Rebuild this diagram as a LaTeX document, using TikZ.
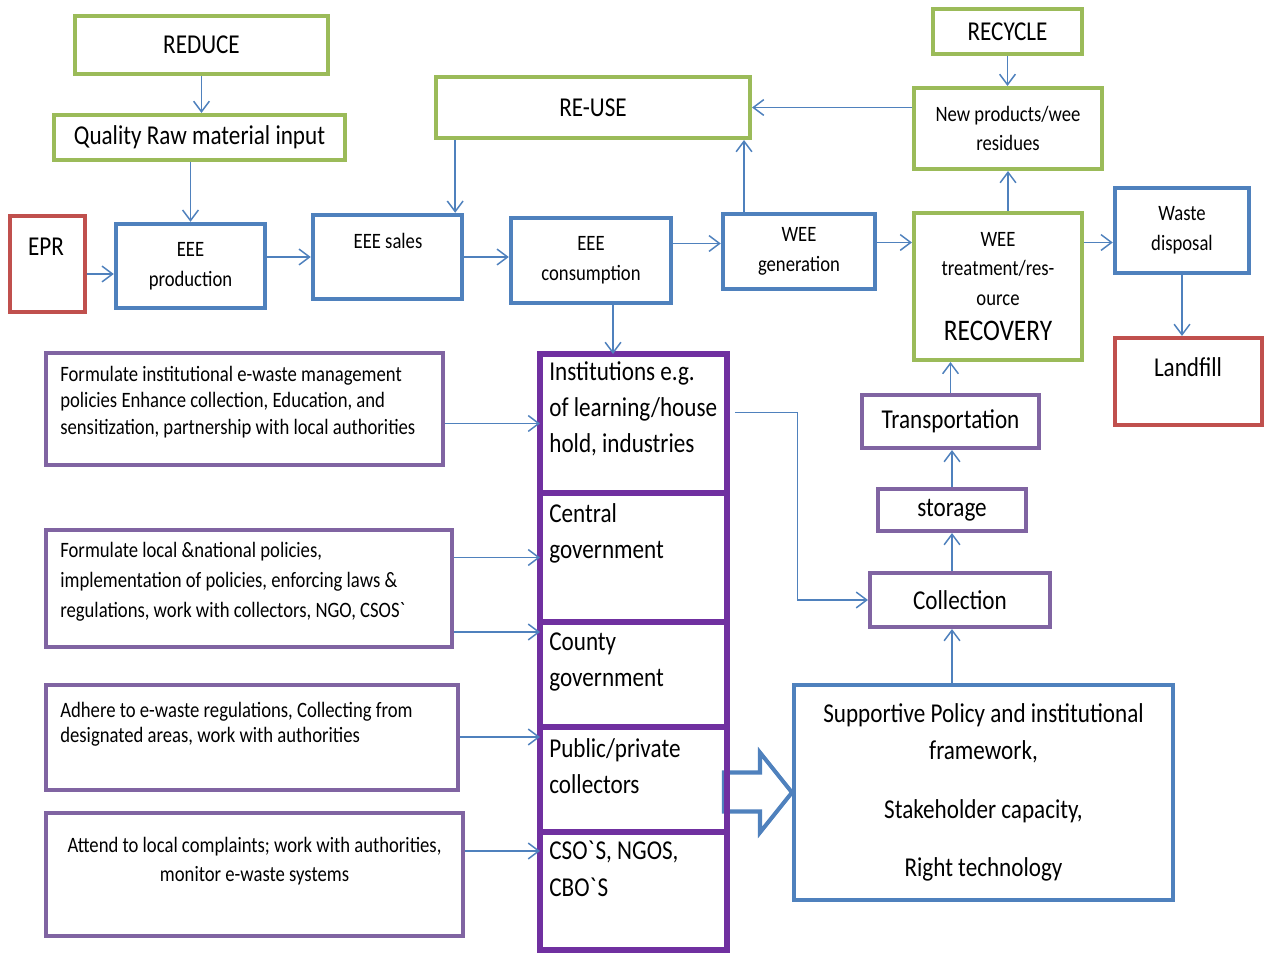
\documentclass[tikz,border=0pt]{standalone}
\usepackage{fontspec}
\setmainfont{Carlito}[FakeStretch=0.85]
\usetikzlibrary{arrows.meta,positioning,calc}

\definecolor{boxgreen}{HTML}{9BBB59}
\definecolor{boxblue}{HTML}{4F81BD}
\definecolor{boxred}{HTML}{C0504D}
\definecolor{boxpurple}{HTML}{8064A2}
\definecolor{colpurple}{HTML}{7030A0}

\tikzset{
  sz/.style 2 args={minimum width=#1*0.02cm, minimum height=#2*0.02cm},
  bigfont/.style={font=\fontsize{15.5}{21}\selectfont},
  smallfont/.style={font=\fontsize{12.5}{17}\selectfont},
  greenbox/.style={draw=boxgreen, line width=2.3pt, align=center, inner sep=0pt, bigfont},
  bluebox/.style={draw=boxblue, line width=2.5pt, align=center, inner sep=0pt, smallfont},
  redbox/.style={draw=boxred, line width=2.3pt, inner sep=0pt},
  purplebox/.style={draw=boxpurple, line width=2.3pt, align=center, inner sep=0pt, bigfont},
  colbox/.style={draw=colpurple, line width=3pt, inner sep=0pt, outer sep=0pt, sz={187}{#1}},
  coltext/.style={align=left, anchor=north west, inner sep=0pt, font=\fontsize{15.5}{20.7}\selectfont},
  roletext/.style={align=left, inner sep=0pt, font=\fontsize{12.5}{#1}\selectfont},
  flow/.style={draw=boxblue, line width=0.85pt, -{Straight Barb[length=6pt,width=9pt]}},
  bigarrow/.style={draw=boxblue, line width=2.3pt, fill=white},
}

\begin{document}
\begin{tikzpicture}[x=0.02cm, y=-0.02cm]
    \useasboundingbox (0,0) rectangle (1265,955);

    % product life cycle
    \node[greenbox, sz={253}{58}] (reduce) at (201.5,45) {REDUCE};
    \node[greenbox, sz={291}{45}] (quality) at (199.5,137.5) {Quality Raw material input};
    \node[greenbox, sz={314}{61}] (reuse) at (593,107.5) {RE-USE};
    \node[greenbox, sz={149}{45}] (recycle) at (1007.5,31.5) {RECYCLE};
    \node[greenbox, smallfont, sz={188}{81}] (newprod) at (1008,128.5) {New products/wee\\residues};
    \node[greenbox, smallfont, sz={168}{147}] (recovery) at (998,286.5)
        {WEE\\treatment/res-\\ource\\[3pt]{\fontsize{17}{20}\selectfont RECOVERY}};

    \node[redbox, sz={75}{96}] (epr) at (47.5,264) {};
    \node[bigfont] (eprtext) at (46,247) {EPR};
    \node[bluebox, sz={149}{84}] (eprod) at (190.5,266) {EEE\\production};
    \node[bluebox, sz={149}{84}] (esales) at (387.5,257) {};
    \node[smallfont] (salestext) at (388,241) {EEE sales};
    \node[bluebox, sz={160}{85}] (econs) at (591,260.5) {EEE\\consumption};
    \node[bluebox, sz={152}{75}] (wgen) at (799,251.5) {WEE\\generation};
    \node[bluebox, sz={134}{85}] (wdisp) at (1182,230.5) {Waste\\disposal};
    \node[redbox, sz={147}{87}] (landfill) at (1188.5,381.5) {};
    \node[bigfont] (landtext) at (1188,367) {Landfill};

    % collection chain
    \node[purplebox, sz={177}{53}] (transport) at (950.5,421.5) {Transportation};
    \node[purplebox, sz={148}{42}] (storage) at (952,510) {storage};
    \node[purplebox, sz={180}{54}] (collect) at (960,600) {Collection};
    \node[bluebox, bigfont, line width=2.3pt, sz={379}{215}] (support) at (983.5,792.5)
        {Supportive Policy and institutional\\framework,\\[13pt]Stakeholder capacity,\\[12pt]Right technology};
    \draw[bigarrow] (support.west) -- ++(-32,-40) -- ++(0,20) -- ++(-36,0) -- ++(0,39) -- ++(36,0) -- ++(0,21) -- cycle;

    % stakeholders
    \node[colbox=139] (inst) at (633.5,423.5) {};
    \node[colbox=129, below=0pt of inst] (central) {};
    \node[colbox=105, below=0pt of central] (county) {};
    \node[colbox=105, below=0pt of county] (collectors) {};
    \node[colbox=118, below=0pt of collectors] (cso) {};
    \node[coltext] (insttext) at ($(inst.north west)+(9,7)$) {Institutions e.g.\\of learning/house\\hold, industries};
    \node[coltext] (centraltext) at ($(central.north west)+(9,10)$) {Central\\government};
    \node[coltext] (countytext) at ($(county.north west)+(9,10)$) {County\\government};
    \node[coltext] (colltext) at ($(collectors.north west)+(9,11)$) {Public/private\\collectors};
    \node[coltext] (csotext) at ($(cso.north west)+(9,9)$) {CSO\textasciigrave S, NGOS,\\CBO\textasciigrave S};

    % roles
    \node[purplebox, sz={397}{112}] (role1) at (244.5,409) {};
    \node[roletext=15, anchor=west] (role1text) at ($(role1.west)+(16,-7)$)
        {Formulate institutional e-waste management\\policies Enhance collection, Education, and\\sensitization, partnership with local authorities};
    \node[purplebox, sz={406}{117}] (role2) at (249,588.5) {};
    \node[roletext=17, anchor=west] (role2text) at ($(role2.west)+(16,-6.5)$)
        {Formulate local \&national policies,\\implementation of policies, enforcing laws \&\\regulations, work with collectors, NGO, CSOS\textasciigrave};
    \node[purplebox, sz={412}{105}] (role3) at (252,737.5) {};
    \node[roletext=14.5, anchor=west] (role3text) at ($(role3.west)+(16,-13)$)
        {Adhere to e-waste regulations, Collecting from\\designated areas, work with authorities};
    \node[purplebox, sz={417}{123}] (role4) at (254.5,874.5) {};
    \node[roletext=16.5, align=center] (role4text) at ($(role4.center)+(0,-13)$)
        {Attend to local complaints; work with authorities,\\monitor e-waste systems};

    % connectors
    \draw[flow] (reduce.south) -- (reduce.south |- quality.north);
    \draw[flow] (eprod.north |- quality.south) -- (eprod.north);
    \coordinate (eprout) at ($(epr.east)+(0,10)$);
    \draw[flow] (eprout) -- (eprout -| eprod.west);
    \draw[flow] (eprod.east |- esales.west) -- (esales.west);
    \draw[flow] (esales.east) -- (esales.east -| econs.west);
    \coordinate (salesin) at ($(esales.north east)+(-9,0)$);
    \draw[flow] (salesin |- reuse.south) -- (salesin);
    \coordinate (genin) at ($(wgen.west)+(0,-8)$);
    \draw[flow] (genin -| econs.east) -- (genin);
    \coordinate (reusein) at ($(reuse.south east)+(-8,0)$);
    \draw[flow] (reusein |- wgen.north) -- (reusein);
    \draw[flow] (newprod.west |- reuse.east) -- (reuse.east);
    \draw[flow] (recycle.south) -- (recycle.south |- newprod.north);
    \coordinate (recin) at ($(wgen.east)+(0,-9)$);
    \draw[flow] (recin) -- (recin -| recovery.west);
    \draw[flow] (newprod.south |- recovery.north) -- (newprod.south);
    \coordinate (dispin) at ($(wdisp.west)+(0,12)$);
    \draw[flow] (dispin -| recovery.east) -- (dispin);
    \draw[flow] (wdisp.south) -- (wdisp.south |- landfill.north);
    \coordinate (consout) at ($(econs.south)+(22,0)$);
    \draw[flow] (consout) -- (consout |- inst.north);
    \draw[flow] (transport.north) -- (transport.north |- recovery.south);
    \draw[flow] (storage.north) -- (storage.north |- transport.south);
    \draw[flow] (storage.south |- collect.north) -- (storage.south);
    \draw[flow] (storage.south |- support.north) -- (storage.south |- collect.south);
    \coordinate (instout) at ($(inst.east)+(8,-11)$);
    \coordinate (bend) at ($(inst.east)!0.5!(collect.west)$);
    \draw[flow] (instout) -| (bend) |- (collect.west);
    \draw[flow] (role1.east |- inst.west) -- (inst.west);
    \draw[flow] (role2.east |- central.west) -- (central.west);
    \coordinate (countyin) at ($(county.north west)+(0,10)$);
    \draw[flow] (countyin -| role2.east) -- (countyin);
    \coordinate (collin) at ($(collectors.north west)+(0,10)$);
    \draw[flow] (collin -| role3.east) -- (collin);
    \coordinate (csoin) at ($(cso.north west)+(0,19)$);
    \draw[flow] (csoin -| role4.east) -- (csoin);
\end{tikzpicture}
\end{document}
